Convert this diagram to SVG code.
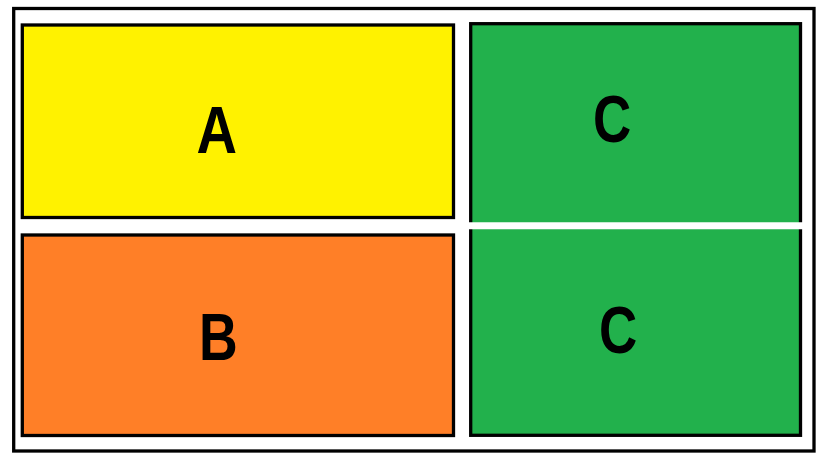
<svg xmlns="http://www.w3.org/2000/svg" width="827" height="466" viewBox="0 0 827 466">
<style>
.box{stroke:#000;stroke-width:3.3}
.lbl{font-family:"Liberation Sans",Arial,sans-serif;font-weight:bold;fill:#000;text-anchor:middle}
</style>
<rect width="827" height="466" fill="#fff"/>
<g id="frame"><rect x="13.7" y="8.5" width="800.3" height="442.5" fill="#fff" class="box"/></g>
<g id="A">
<rect x="22.3" y="25" width="431.2" height="192.5" fill="#FFF200" class="box"/>
<text class="lbl" font-size="66" transform="translate(216.7 153) scale(0.85 1)">A</text>
</g>
<g id="B">
<rect x="22.3" y="235" width="431.2" height="200.5" fill="#FF7F27" class="box"/>
<text class="lbl" font-size="67" transform="translate(218.4 360) scale(0.8 1)">B</text>
</g>
<g id="C">
<rect x="470.7" y="23.7" width="329.8" height="411.6" fill="#22B14C" class="box"/>
<line x1="465" y1="225.7" x2="806" y2="225.7" stroke="#fff" stroke-width="7"/>
<text class="lbl" font-size="67" transform="translate(612 142) scale(0.79 1)">C</text>
<text class="lbl" font-size="67" transform="translate(618 353) scale(0.79 1)">C</text>
</g>
<g id="connectors"/>
</svg>
